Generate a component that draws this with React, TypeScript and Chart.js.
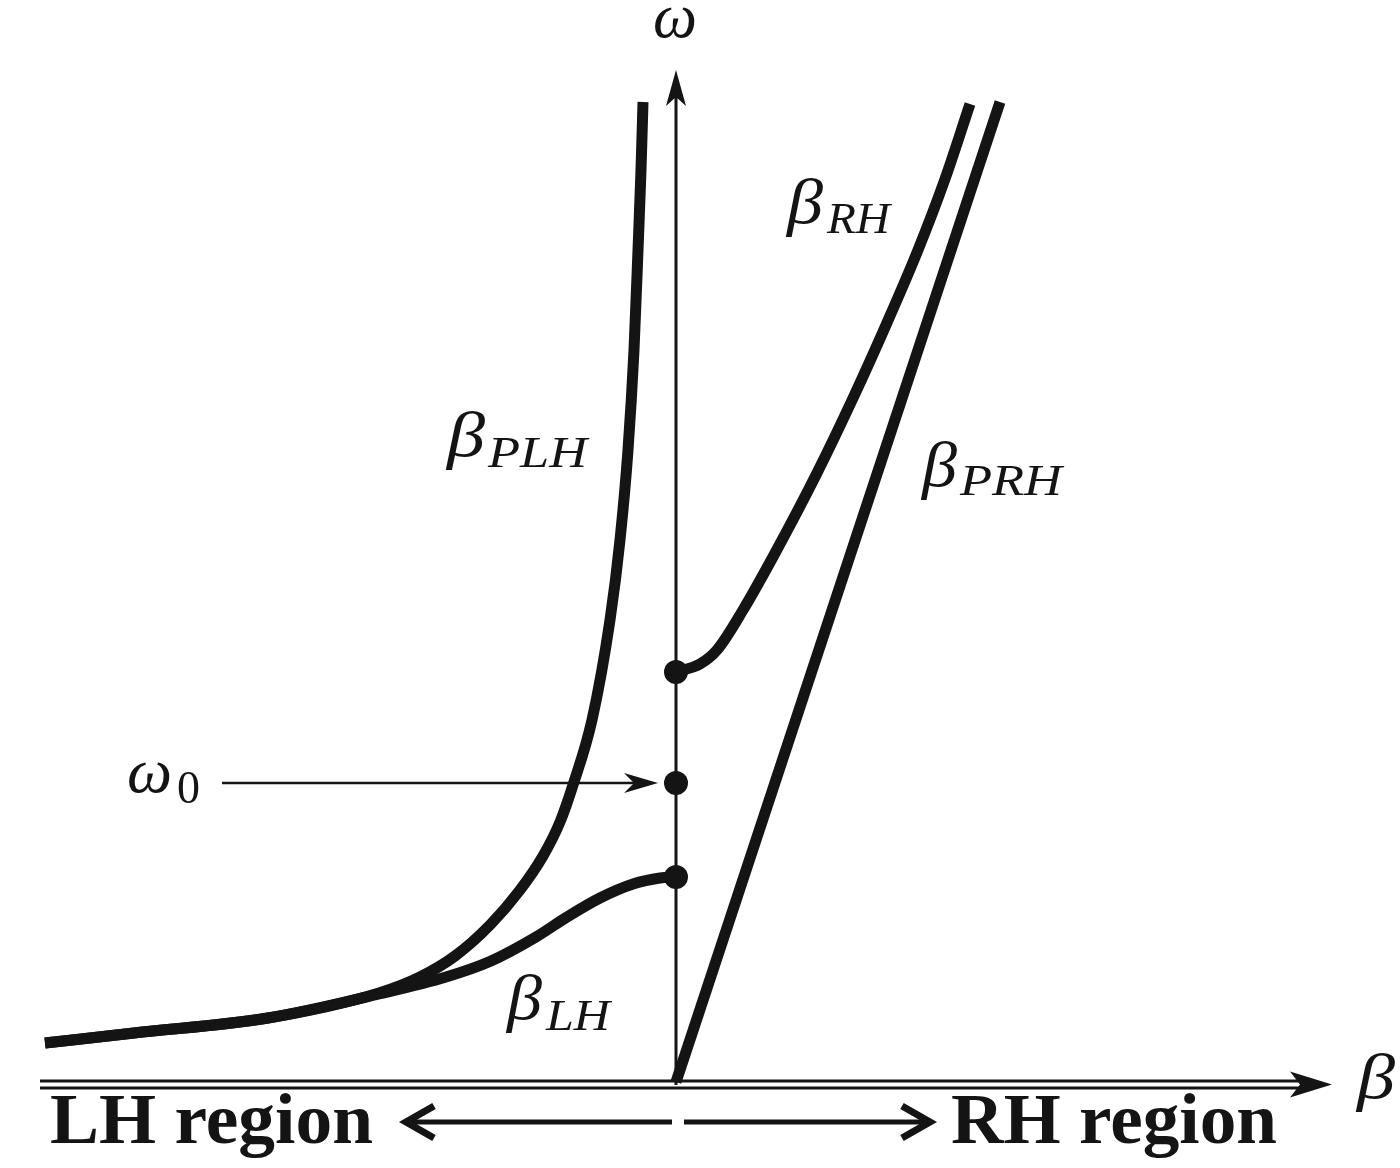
import React, { useEffect, useRef } from "react";
import { Chart, registerables } from "chart.js";

Chart.register(...registerables);

// β (horizontal) and ω (vertical) values, arbitrary units
const plhBeta = [-6.31, -5.42, -4.08, -2.97, -2.56, -2.21, -1.86, -1.56, -1.33, -1.16, -1.03, -0.84, -0.66, -0.56, -0.48, -0.42, -0.38, -0.35, -0.33];
const plhOmega = [0.39, 0.49, 0.64, 0.89, 1.05, 1.26, 1.57, 1.92, 2.26, 2.60, 2.97, 3.62, 4.62, 5.42, 6.32, 7.32, 8.32, 9.12, 9.80];

const lhBeta = [-6.31, -5.42, -4.08, -2.97, -2.30, -1.85, -1.40, -1.09, -0.76, -0.43, -0.16, 0];
const lhOmega = [0.39, 0.49, 0.64, 0.88, 1.05, 1.21, 1.45, 1.65, 1.84, 1.98, 2.04, 2.05];

const rhBeta = [0, 0.24, 0.41, 0.67, 0.98, 1.40, 1.78, 2.10, 2.42, 2.69, 2.94];
const rhOmega = [4.10, 4.18, 4.32, 4.72, 5.27, 6.07, 6.86, 7.57, 8.32, 9.03, 9.78];

const prhBeta = [0, 1.62, 3.24];
const prhOmega = [0, 4.9, 9.8];

const dotBeta = [0, 0, 0];
const dotOmega = [4.10, 2.99, 2.05];

const betaRange = [-6.76, 7.24];
const omegaRange = [-0.86, 10.82];

const INK = "#141414";

const pts = (xs: number[], ys: number[]) => xs.map((x, i) => ({ x, y: ys[i] }));

function fitText(ctx: CanvasRenderingContext2D, text: string, x: number, baseline: number, font: string, width: number) {
  ctx.font = font;
  const w = ctx.measureText(text).width;
  ctx.save();
  ctx.translate(x, baseline);
  ctx.scale(width / w, 1);
  ctx.textAlign = "left";
  ctx.textBaseline = "alphabetic";
  ctx.fillText(text, 0, 0);
  ctx.restore();
}

function stealth(ctx: CanvasRenderingContext2D, tipX: number, tipY: number, dirX: number, dirY: number, len: number, half: number, notch: number) {
  const px = -dirY, py = dirX;
  const bx = tipX - dirX * len, by = tipY - dirY * len;
  const nx = tipX - dirX * notch, ny = tipY - dirY * notch;
  ctx.beginPath();
  ctx.moveTo(tipX, tipY);
  ctx.lineTo(bx + px * half, by + py * half);
  ctx.lineTo(nx, ny);
  ctx.lineTo(bx - px * half, by - py * half);
  ctx.closePath();
  ctx.fill();
}

const decorPlugin = {
  id: "decor",
  beforeDatasetsDraw(chart: any) {
    const ctx: CanvasRenderingContext2D = chart.ctx;
    const xs = chart.scales.x, ys = chart.scales.y;
    const x0 = xs.getPixelForValue(0);
    const y0 = ys.getPixelForValue(0);
    ctx.save();
    ctx.fillStyle = "#fff";
    ctx.fillRect(0, 0, chart.width, chart.height);
    ctx.strokeStyle = INK;
    ctx.fillStyle = INK;
    ctx.lineCap = "butt";
    // ω axis
    ctx.lineWidth = 3;
    ctx.beginPath();
    ctx.moveTo(x0, y0 + 3);
    ctx.lineTo(x0, 95);
    ctx.stroke();
    stealth(ctx, x0, 70, 0, -1, 36, 10, 27);
    // β axis (double line)
    ctx.lineWidth = 3;
    ctx.beginPath();
    ctx.moveTo(40, y0 - 1);
    ctx.lineTo(1302, y0 - 1);
    ctx.moveTo(40, y0 + 6);
    ctx.lineTo(1302, y0 + 6);
    ctx.stroke();
    stealth(ctx, 1332, y0 + 2.5, 1, 0, 42, 13, 32);
    // ω0 pointer
    const yw0 = ys.getPixelForValue(dotOmega[1]);
    ctx.lineWidth = 2.5;
    ctx.beginPath();
    ctx.moveTo(222, yw0);
    ctx.lineTo(640, yw0);
    ctx.stroke();
    stealth(ctx, 658, yw0, 1, 0, 34, 10, 24);
    // LH / RH region arrows
    const ya = 1122;
    ctx.lineWidth = 5;
    ctx.beginPath();
    ctx.moveTo(672, ya);
    ctx.lineTo(408, ya);
    ctx.moveTo(684, ya);
    ctx.lineTo(928, ya);
    ctx.stroke();
    ctx.lineWidth = 7;
    ctx.lineJoin = "miter";
    ctx.beginPath();
    ctx.moveTo(434, ya - 16);
    ctx.lineTo(406, ya);
    ctx.lineTo(434, ya + 16);
    ctx.moveTo(902, ya - 16);
    ctx.lineTo(930, ya);
    ctx.lineTo(902, ya + 16);
    ctx.stroke();
    // texts
    const ital = (s: number) => `italic ${s}px "Liberation Serif", "DejaVu Serif", serif`;
    const up = (s: number) => `${s}px "Liberation Serif", "DejaVu Serif", serif`;
    fitText(ctx, "ω", 653, 37, ital(64), 44);
    fitText(ctx, "β", 1357, 1098, ital(64), 38);
    fitText(ctx, "ω", 127, 792, ital(64), 45);
    fitText(ctx, "0", 177, 803, up(46), 23);
    fitText(ctx, "β", 447, 456, ital(64), 38);
    fitText(ctx, "PLH", 488, 467, ital(45), 99);
    fitText(ctx, "β", 787, 223, ital(64), 36);
    fitText(ctx, "RH", 827, 233, ital(45), 63);
    fitText(ctx, "β", 922, 486, ital(64), 35);
    fitText(ctx, "PRH", 960, 495, ital(45), 102);
    fitText(ctx, "β", 507, 1019, ital(64), 35);
    fitText(ctx, "LH", 546, 1030, ital(45), 64);
    const bold = `bold 72px "Liberation Serif", "DejaVu Serif", serif`;
    fitText(ctx, "LH region", 50, 1143, bold, 323);
    fitText(ctx, "RH region", 951, 1143, bold, 326);
    ctx.restore();
  },
};

export default function App() {
  const ref = useRef<HTMLCanvasElement | null>(null);
  useEffect(() => {
    document.body.style.margin = "0";
    const canvas = ref.current!;
    const curve = (label: string, data: any[]) => ({
      label,
      data,
      borderColor: INK,
      backgroundColor: INK,
      borderWidth: 11,
      borderCapStyle: "butt" as const,
      borderJoinStyle: "round" as const,
      pointRadius: 0,
      cubicInterpolationMode: "monotone" as const,
      fill: false,
      order: 2,
    });
    const chart = new Chart(canvas, {
      type: "line",
      data: {
        datasets: [
          curve("βPLH", pts(plhBeta, plhOmega)),
          curve("βLH", pts(lhBeta, lhOmega)),
          curve("βRH", pts(rhBeta, rhOmega)),
          curve("βPRH", pts(prhBeta, prhOmega)),
          {
            label: "dots",
            data: pts(dotBeta, dotOmega),
            showLine: false,
            pointRadius: 12,
            pointBackgroundColor: INK,
            pointBorderWidth: 0,
            borderColor: INK,
            order: 1,
          },
        ],
      },
      options: {
        animation: false,
        responsive: true,
        maintainAspectRatio: false,
        layout: { padding: 0, autoPadding: false },
        plugins: { legend: { display: false }, tooltip: { enabled: false } },
        events: [],
        scales: {
          x: { type: "linear", min: betaRange[0], max: betaRange[1], display: false },
          y: { type: "linear", min: omegaRange[0], max: omegaRange[1], display: false },
        },
      },
      plugins: [decorPlugin],
    });
    return () => chart.destroy();
  }, []);
  return (
    <div style={{ width: 1400, height: 1168, position: "relative" }}>
      <canvas ref={ref} />
    </div>
  );
}
